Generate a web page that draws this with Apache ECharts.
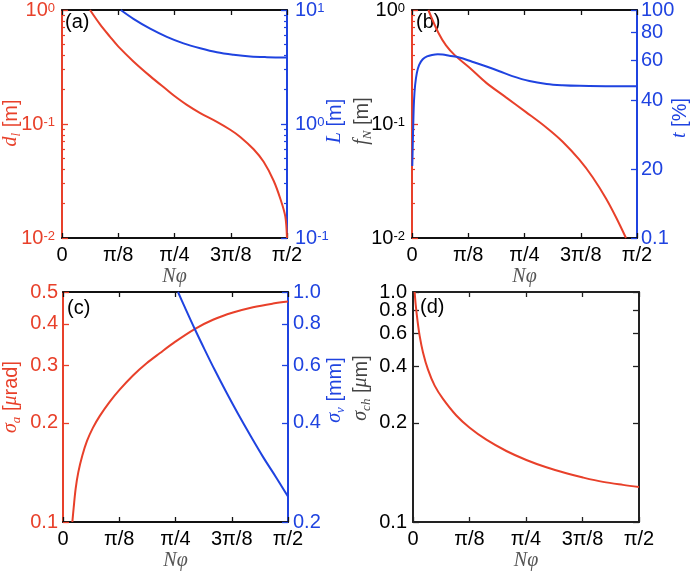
<!DOCTYPE html>
<html><head><meta charset="utf-8">
<script src="https://cdn.jsdelivr.net/npm/echarts@6/dist/echarts.min.js"></script>
<style>html,body{margin:0;padding:0;background:#fff}#c{width:692px;height:572px}</style>
</head><body><div id="c"></div>
<script>
// ---------- data ----------
const X_TICKS = [0, Math.PI / 8, Math.PI / 4, 3 * Math.PI / 8, Math.PI / 2];
const X_LABELS = ['0', 'π/8', 'π/4', '3π/8', 'π/2'];
const X_MAX = Math.PI / 2;

// (a)
const A_X_D = [0.1958,0.2657,0.3356,0.3939,0.4987,0.6153,0.7318,0.7831,0.8716,0.9649,1.0814,1.1746,1.2445,1.3378,1.4077,1.4776,1.5242,1.5592,1.5708];
const A_D   = [1.0,0.748,0.582,0.477,0.354,0.263,0.1995,0.177,0.1472,0.1248,0.1044,0.0890,0.0770,0.0600,0.0466,0.0318,0.0221,0.0154,0.0100];
const A_X_L = [0.4102,0.4987,0.6153,0.7318,0.8483,0.9649,1.0814,1.1979,1.3145,1.4310,1.5708];
const A_L   = [10,8.37,6.86,5.82,5.10,4.62,4.26,4.05,3.91,3.86,3.84];
const A_LEFT_TICKS = [0.01, 0.1, 1];
const A_LEFT_LABELS = ['10^-2', '10^-1', '10^0'];
const A_LEFT_MINOR = [0.02,0.03,0.04,0.05,0.06,0.07,0.08,0.09,0.2,0.3,0.4,0.5,0.6,0.7,0.8,0.9];
const A_RIGHT_TICKS = [0.1, 1, 10];
const A_RIGHT_LABELS = ['10^-1', '10^0', '10^1'];
const A_RIGHT_MINOR = [0.2,0.3,0.4,0.5,0.6,0.7,0.8,0.9,2,3,4,5,6,7,8,9];

// (b)
const B_X_F = [0.114,0.184,0.2374,0.300,0.4003,0.5166,0.6562,0.7959,0.9355,1.0519,1.1682,1.2613,1.3544,1.4242,1.4940];
const B_F   = [1.0,0.631,0.49,0.40,0.313,0.2307,0.1713,0.1272,0.0937,0.0699,0.0486,0.0341,0.0222,0.0152,0.0100];
const B_X_T = [0.002,0.005,0.009,0.014,0.022,0.034,0.05,0.075,0.105,0.14,0.18,0.214,0.26,0.33,0.42,0.52,0.61,0.70,0.82,0.94,1.05,1.17,1.40,1.5708];
const B_T   = [20.7,25,32,40,47,53,57.5,60.8,62.6,63.5,63.9,63.8,63.0,61.9,59.3,56.5,53.9,51.3,48.8,47.4,46.8,46.5,46.3,46.3];
const B_LEFT_TICKS = [0.01, 0.1, 1];
const B_LEFT_LABELS = ['10^-2', '10^-1', '10^0'];
const B_LEFT_MINOR = A_LEFT_MINOR;
const B_RIGHT_TICKS = [10, 20, 40, 60, 80, 100];
const B_RIGHT_LABELS = ['0.1', '20', '40', '60', '80', '100'];

// (c)
const C_X_SA = [0.0652,0.0745,0.0884,0.1070,0.1350,0.1676,0.2094,0.2560,0.3258,0.3956,0.4887,0.5818,0.6749,0.7842,0.9192,1.0472,1.1868,1.3264,1.4661,1.5708];
const C_SA   = [0.1000,0.1105,0.1264,0.1418,0.1592,0.1763,0.1935,0.2098,0.2318,0.2525,0.2789,0.3031,0.3257,0.3533,0.3859,0.4117,0.4330,0.4495,0.4611,0.4675];
const C_X_SV = [0.8029,0.8494,0.9192,0.9890,1.0588,1.1403,1.2217,1.3032,1.3963,1.4893,1.5708];
const C_SV   = [1.0,0.9011,0.7732,0.6683,0.5801,0.4957,0.4264,0.3694,0.3155,0.2727,0.2389];
const C_LEFT_TICKS = [0.1, 0.2, 0.3, 0.4, 0.5];
const C_LEFT_LABELS = ['0.1', '0.2', '0.3', '0.4', '0.5'];
const C_RIGHT_TICKS = [0.2, 0.4, 0.6, 0.8, 1.0];
const C_RIGHT_LABELS = ['0.2', '0.4', '0.6', '0.8', '1.0'];

// (d)
const D_X   = [0.0116,0.0185,0.0301,0.0463,0.0695,0.1043,0.1506,0.2085,0.3012,0.3939,0.5097,0.6487,0.7877,0.9267,1.0657,1.1816,1.3206,1.4596,1.5708];
const D_SCH = [1.0,0.860,0.7155,0.5834,0.4757,0.3847,0.3162,0.2686,0.2190,0.1883,0.1626,0.1415,0.1267,0.1158,0.1076,0.1021,0.0968,0.0933,0.0910];
const D_TICKS = [0.0591, 0.2, 0.4, 0.6, 0.8, 1.0];
const D_LABELS = ['0.1', '0.2', '0.4', '0.6', '0.8', '1.0'];

// ---------- styles ----------
const SANS = 'Liberation Sans', SERIF = 'Liberation Serif';
const RED = '#e8402a', BLUE = '#1f43e0', FRAME = '#111', GRAY = '#555';
const FS = 20;

function zip(xs, ys) { return xs.map((v, i) => [v, ys[i]]); }
function labelFmt(ticks, labels) {
  return function (v) {
    let best = 0, bd = Infinity;
    ticks.forEach((t, i) => { const d = Math.abs(Math.log(t) - Math.log(Math.max(v, 1e-12))); if (d < bd) { bd = d; best = i; } });
    const s = labels[best];
    if (s.indexOf('^') >= 0) { const p = s.split('^'); return '{b|' + p[0] + '}{s|' + p[1] + '}'; }
    return '{b|' + s + '}';
  };
}
function richLbl(color) {
  return {
    b: { fontFamily: SANS, fontSize: FS, lineHeight: 16, color: color },
    s: { fontFamily: SANS, fontSize: 13, lineHeight: 8, verticalAlign: 'top', color: color }
  };
}

const grids = [], xAxes = [], yAxes = [], series = [], graphics = [];

function addPanel(rect, frameColor) {
  const g = grids.length;
  grids.push({ left: rect[0], top: rect[1], width: rect[2], height: rect[3], containLabel: false });
  const xi = xAxes.length;
  xAxes.push({
    gridIndex: g, type: 'value', position: 'bottom', min: 0, max: X_MAX,
    axisLine: { onZero: false, lineStyle: { color: frameColor, width: 2 } },
    axisTick: { inside: true, length: 5, customValues: X_TICKS, lineStyle: { color: frameColor, width: 1.3 } },
    axisLabel: { customValues: X_TICKS, margin: 7, color: '#000', fontFamily: SANS, fontSize: FS, hideOverlap: false,
      formatter: function (v) { let b = 0, bd = Infinity; X_TICKS.forEach((t, i) => { if (Math.abs(t - v) < bd) { bd = Math.abs(t - v); b = i; } }); return X_LABELS[b]; } },
    splitLine: { show: false },
    name: 'Nφ', nameLocation: 'middle', nameGap: 29,
    nameTextStyle: { fontFamily: SERIF, fontStyle: 'italic', fontSize: FS, color: GRAY }
  });
  xAxes.push({
    gridIndex: g, type: 'value', position: 'top', min: 0, max: X_MAX,
    axisLine: { onZero: false, lineStyle: { color: frameColor, width: 2 } },
    axisTick: { inside: true, length: 5, customValues: X_TICKS, lineStyle: { color: frameColor, width: 1.3 } },
    axisLabel: { show: false }, splitLine: { show: false }
  });
  return { g: g, xi: xi };
}

// ticks: tick positions; lblVals: positions that get labels (subset of ticks)
function addY(g, pos, range, ticks, lblVals, labels, lineColor, labelColor, margin, showLine, showTicks) {
  const yi = yAxes.length;
  yAxes.push({
    gridIndex: g, type: 'log', logBase: 10, position: pos, min: range[0], max: range[1],
    axisLine: { show: showLine !== false, onZero: false, lineStyle: { color: lineColor, width: 2 } },
    axisTick: { show: showTicks !== false, inside: true, length: 6, customValues: ticks, lineStyle: { color: lineColor, width: 1.3 } },
    axisLabel: lblVals ? { customValues: lblVals, margin: margin, hideOverlap: false, showMinLabel: true, showMaxLabel: true,
      formatter: labelFmt(ticks, labels), rich: richLbl(labelColor) } : { show: false },
    splitLine: { show: false }, minorTick: { show: false }
  });
  return yi;
}
function addMinor(g, pos, range, ticks, color) {
  yAxes.push({
    gridIndex: g, type: 'log', logBase: 10, position: pos, min: range[0], max: range[1],
    axisLine: { show: false, onZero: false },
    axisTick: { inside: true, length: 3, customValues: ticks, lineStyle: { color: color, width: 1.2 } },
    axisLabel: { show: false }, splitLine: { show: false }
  });
}
function addLine(xi, yi, xs, ys, color) {
  series.push({ type: 'line', xAxisIndex: xi, yAxisIndex: yi, data: zip(xs, ys), showSymbol: false,
    smooth: 0.35, clip: true, lineStyle: { color: color, width: 2 }, animation: false, silent: true });
}
function title(x, y, text, color) {
  graphics.push({ type: 'text', x: x, y: y, rotation: Math.PI / 2, silent: true,
    style: { text: text, fill: color, align: 'center', verticalAlign: 'middle',
      rich: {
        i: { fontFamily: SERIF, fontStyle: 'italic', fontSize: FS, lineHeight: 24, fill: color },
        sub: { fontFamily: SERIF, fontStyle: 'italic', fontSize: 13, lineHeight: 13, verticalAlign: 'bottom', fill: color },
        n: { fontFamily: SANS, fontSize: FS, lineHeight: 24, fill: color }
      } } });
}
function plabel(x, y, t) {
  graphics.push({ type: 'text', x: x, y: y, silent: true,
    style: { text: t, fill: '#000', font: FS + 'px "' + SANS + '"', verticalAlign: 'middle' } });
}

// (a)
let p = addPanel([62, 6, 225, 232], FRAME);
let yl = addY(p.g, 'left', [0.01, 1], A_LEFT_TICKS, A_LEFT_TICKS, A_LEFT_LABELS, RED, RED, 7);
let yr = addY(p.g, 'right', [0.1, 10], A_RIGHT_TICKS, A_RIGHT_TICKS, A_RIGHT_LABELS, BLUE, BLUE, 8);
addMinor(p.g, 'left', [0.01, 1], A_LEFT_MINOR, RED);
addMinor(p.g, 'right', [0.1, 10], A_RIGHT_MINOR, BLUE);
addLine(p.xi, yl, A_X_D, A_D, RED);
addLine(p.xi, yr, A_X_L, A_L, BLUE);
title(11, 123, '{i|d}{sub|l}{n| [m]}', RED);
title(335, 121, '{i|L}{n| [m]}', BLUE);
plabel(65, 22, '(a)');

// (b)
p = addPanel([412, 6, 225, 232], FRAME);
yl = addY(p.g, 'left', [0.01, 1], B_LEFT_TICKS, B_LEFT_TICKS, B_LEFT_LABELS, RED, '#000', 7);
yr = addY(p.g, 'right', [10, 100], B_RIGHT_TICKS, B_RIGHT_TICKS, B_RIGHT_LABELS, BLUE, BLUE, 4);
addMinor(p.g, 'left', [0.01, 1], B_LEFT_MINOR, RED);
addLine(p.xi, yl, B_X_F, B_F, RED);
addLine(p.xi, yr, B_X_T, B_T, BLUE);
title(362, 121, '{i|f}{sub|N}{n| [m]}', '#444');
title(680, 118, '{i|t}{n| [%]}', BLUE);
plabel(416, 22, '(b)');

// (c)
p = addPanel([63, 292, 225, 232], FRAME);
yl = addY(p.g, 'left', [0.1, 0.5], C_LEFT_TICKS, C_LEFT_TICKS, C_LEFT_LABELS, RED, RED, 5);
yr = addY(p.g, 'right', [0.2, 1.0], C_RIGHT_TICKS, C_RIGHT_TICKS, C_RIGHT_LABELS, BLUE, BLUE, 5);
addLine(p.xi, yl, C_X_SA, C_SA, RED);
addLine(p.xi, yr, C_X_SV, C_SV, BLUE);
title(11, 397, '{i|σ}{sub|a}{n| [}{i|μ}{n|rad]}', RED);
title(335, 390, '{i|σ}{sub|v}{n| [mm]}', BLUE);
plabel(67, 308, '(c)');

// (d) — labels split over two coincident axes so that close labels are all kept
p = addPanel([413, 292, 226, 231], '#222');
const D_RANGE = [D_TICKS[0], D_TICKS[D_TICKS.length - 1]];
const dSetA = D_TICKS.filter((v, i) => i % 2 === 1 || i === 0);
const dSetB = D_TICKS.filter((v, i) => i % 2 === 0 && i !== 0);
yl = addY(p.g, 'left', D_RANGE, D_TICKS, dSetA, D_LABELS, '#222', '#000', 6);
addY(p.g, 'left', D_RANGE, D_TICKS, dSetB, D_LABELS, '#222', '#000', 6, false, false);
addY(p.g, 'right', D_RANGE, D_TICKS, null, null, '#222', '#000', 6);
addLine(p.xi, yl, D_X, D_SCH, RED);
title(361, 388, '{i|σ}{sub|ch}{n| [}{i|μ}{n|m]}', '#444');
plabel(420, 307, '(d)');

const chart = echarts.init(document.getElementById('c'), null, { renderer: 'canvas' });
chart.setOption({
  animation: false, backgroundColor: '#fff',
  grid: grids, xAxis: xAxes, yAxis: yAxes, series: series, graphic: graphics
});
</script></body></html>
